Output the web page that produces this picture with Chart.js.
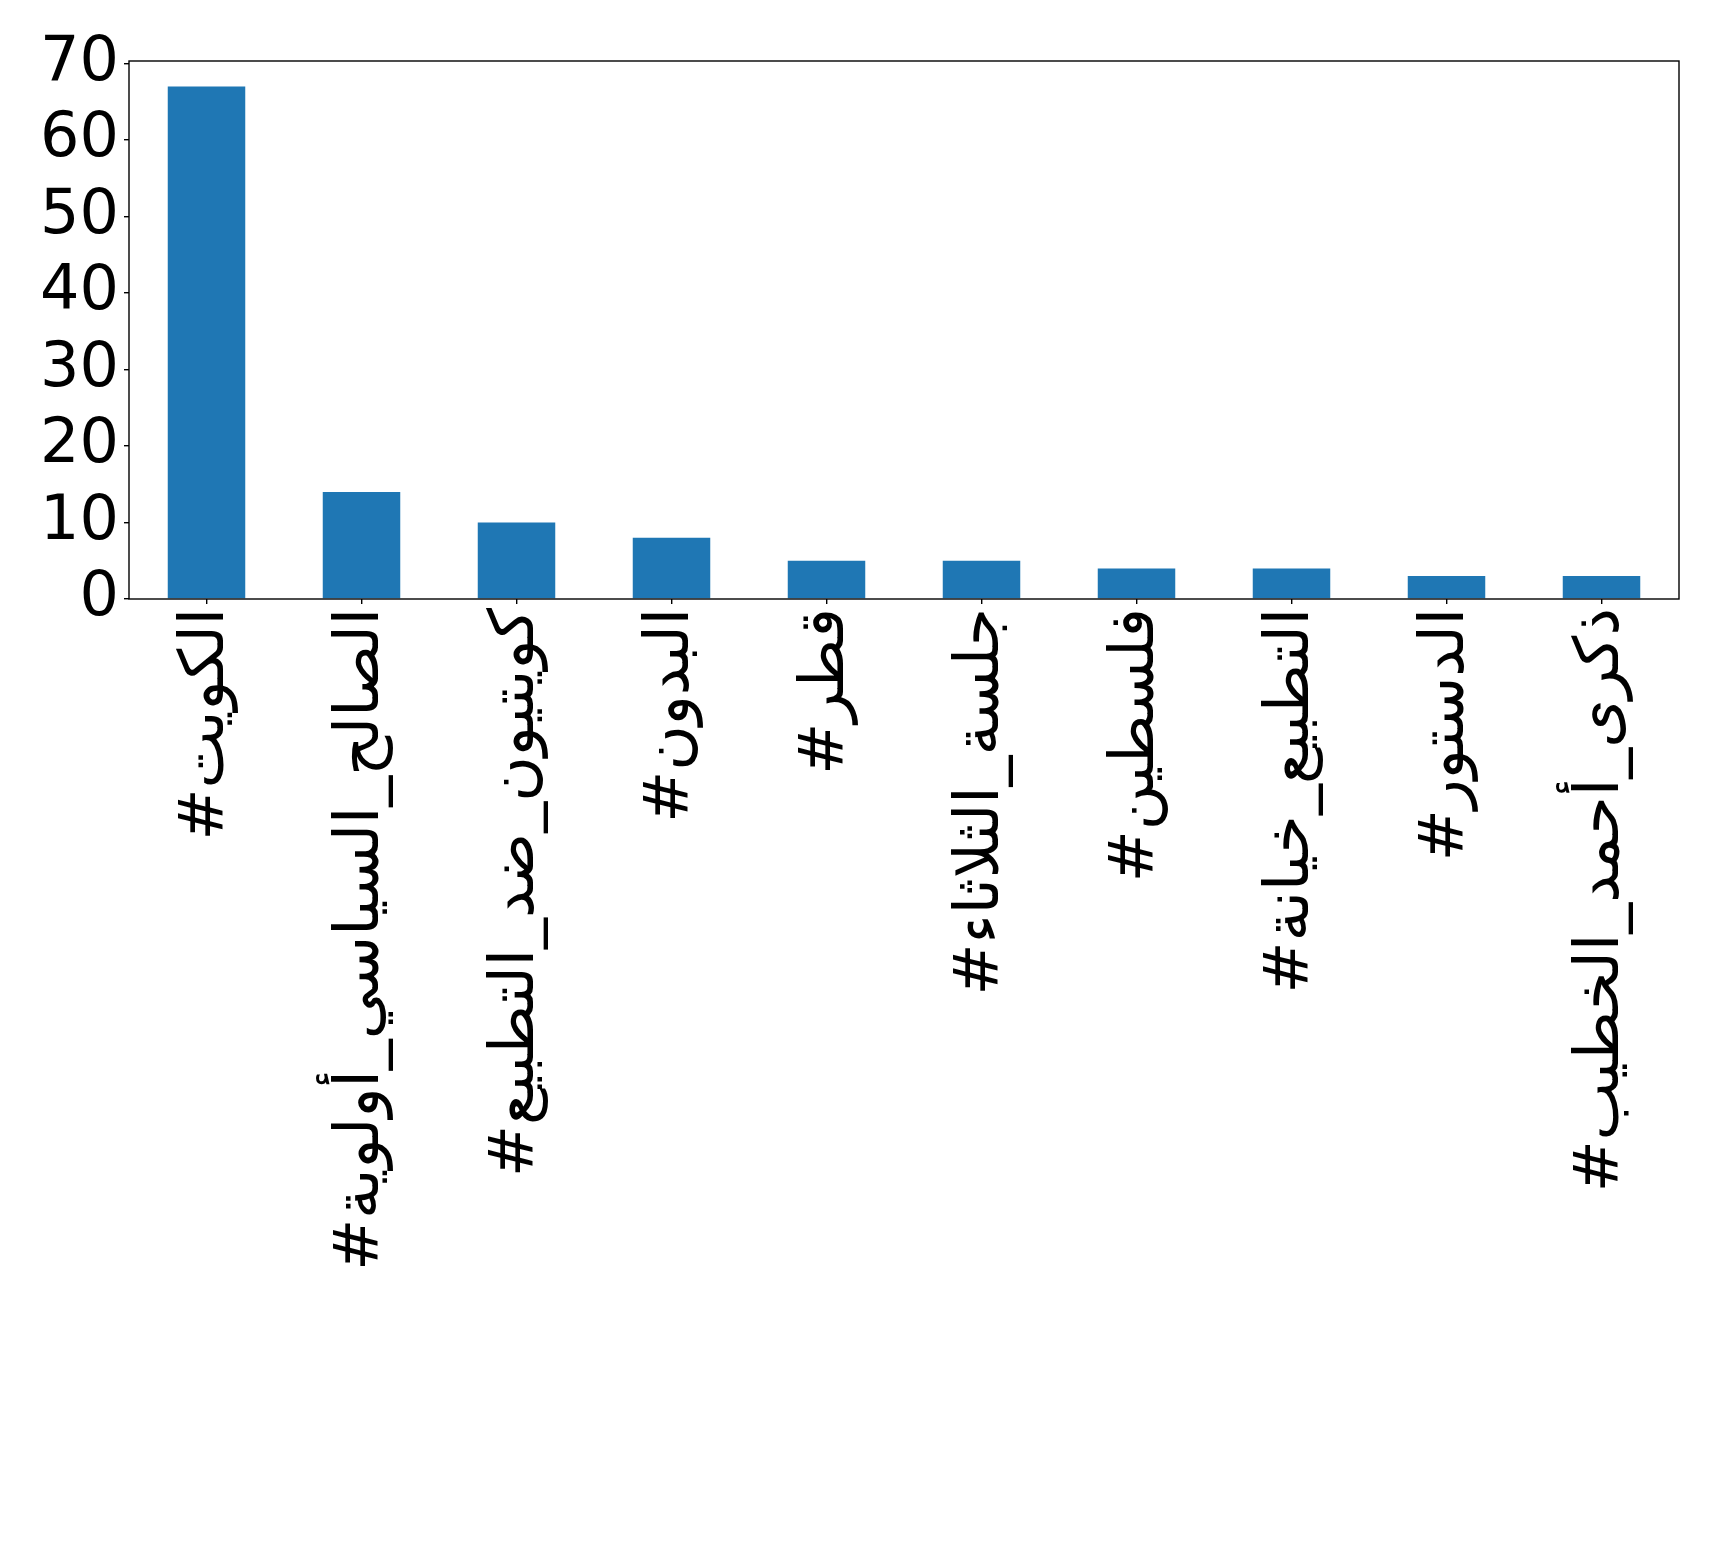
<!DOCTYPE html>
<html>
<head>
<meta charset="utf-8">
<script src="https://cdn.jsdelivr.net/npm/chart.js@4/dist/chart.umd.min.js"></script>
<style>
  html, body { margin: 0; padding: 0; background: #ffffff; }
  #wrap { width: 1719px; height: 1558px; }
</style>
</head>
<body>
<div id="wrap"><canvas id="c" width="1719" height="1558"></canvas></div>
<script>
// Hashtag counts
const categories = [
  "#الكويت",
  "#الصالح_السياسي_أولوية",
  "#كويتيون_ضد_التطبيع",
  "#البدون",
  "#قطر",
  "#جلسة_الثلاثاء",
  "#فلسطين",
  "#التطبيع_خيانة",
  "#الدستور",
  "#ذكرى_أحمد_الخطيب"
];
const counts = [67, 14, 10, 8, 5, 5, 4, 4, 3, 3];
const yTicks = [0, 10, 20, 30, 40, 50, 60, 70];

const FONT = { family: "'DejaVu Sans', sans-serif", size: 62 };

// Box around the plotting area
const frame = {
  id: 'frame',
  afterDatasetsDraw(chart) {
    const a = chart.chartArea, ctx = chart.ctx;
    ctx.save();
    ctx.strokeStyle = '#000';
    ctx.lineWidth = 1.4;
    ctx.strokeRect(a.left, a.top, a.right - a.left, a.bottom - a.top);
    ctx.restore();
  }
};

new Chart(document.getElementById('c'), {
  type: 'bar',
  data: {
    labels: categories,
    datasets: [{
      data: counts,
      backgroundColor: '#1f77b4',
      borderWidth: 0,
      barPercentage: 0.5,
      categoryPercentage: 1.0
    }]
  },
  options: {
    responsive: false,
    animation: false,
    layout: { padding: { top: 61, right: 40, left: 0, bottom: 0 } },
    plugins: { legend: { display: false }, tooltip: { enabled: false } },
    scales: {
      x: {
        offset: true,
        border: { display: false },
        grid: { display: true, drawOnChartArea: false, drawTicks: true, tickLength: 5, color: '#000', lineWidth: 1.4, offset: false },
        ticks: { color: '#000', font: FONT, minRotation: 90, maxRotation: 90, autoSkip: false, padding: 4 },
        afterFit(s) { s.height = 959; }
      },
      y: {
        min: 0,
        max: 70.35,
        border: { display: false },
        grid: { display: true, drawOnChartArea: false, drawTicks: true, tickLength: 5, color: '#000', lineWidth: 1.4 },
        ticks: { color: '#000', font: FONT, stepSize: 10, padding: 5, autoSkip: false },
        afterBuildTicks(s) { s.ticks = yTicks.map(v => ({ value: v })); },
        afterFit(s) { s.width = 129; }
      }
    }
  },
  plugins: [frame]
});
</script>
</body>
</html>
